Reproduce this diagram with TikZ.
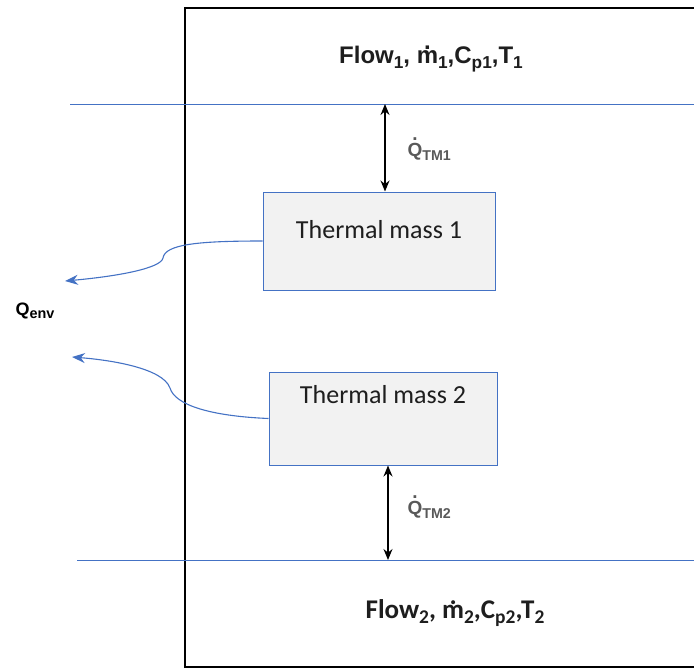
\documentclass[tikz,border=0pt]{standalone}
\usepackage{fontspec}
\setmainfont{Liberation Sans}
\newfontfamily\boxfont{Carlito}
\usetikzlibrary{arrows.meta}
\definecolor{tmblue}{HTML}{4472C4}
\definecolor{tmfill}{HTML}{F2F2F2}
\definecolor{tmgray}{HTML}{595959}
\definecolor{tmdark}{HTML}{1E1E1E}
\newcommand{\lowsub}[2][.72]{\raisebox{-.22em}{\scalebox{#1}{#2}}}
\newcommand{\dotted}[2][.8em]{{\ooalign{#2\cr\hidewidth\raisebox{#1}{.}\hidewidth\cr}}}
\tikzset{
  tmbox/.style={rectangle,fill=tmfill,draw=tmblue,line width=1pt,inner sep=0pt},
  tmtext/.style={font=\boxfont\fontsize{26}{30}\selectfont,text=tmdark,anchor=base},
  flowline/.style={draw=tmblue,line width=1pt},
  qarrow/.style={{Stealth[length=11pt,width=9pt]}-{Stealth[length=11pt,width=9pt]},line width=1.4pt},
  envarrow/.style={-{Stealth[length=13pt,width=10pt]},draw=tmblue,line width=1.1pt},
  flabel/.style={font=\bfseries\fontsize{24}{27}\selectfont,text=tmdark,anchor=base},
  qlabel/.style={font=\bfseries\fontsize{19}{22}\selectfont,text=tmgray,anchor=base west}
}
\begin{document}
\begin{tikzpicture}[x=1pt,y=-1pt]
  \useasboundingbox (0,0) rectangle (694,670);
  \begin{scope}
    \clip (0,0) rectangle (694,670);
    \draw[line width=1.2pt] (185,8) rectangle (710,667);
  \end{scope}

  \coordinate (flow1w) at (70,104);
  \coordinate (flow1e) at (694,104);
  \coordinate (flow2w) at (77,560);
  \coordinate (flow2e) at (694,560);
  \draw[flowline] (flow1w) -- (flow1e);
  \draw[flowline] (flow2w) -- (flow2e);

  \node[flabel] (flow1) at (431,63)
    {Flow\lowsub{1}, \dotted[.56em]{m}\lowsub{1},C\lowsub{p1},T\lowsub{1}};
  \node[flabel,font=\boxfont\bfseries\fontsize{27}{30}\selectfont] (flow2) at (455,618)
    {Flow\lowsub{2}, \dotted[.5em]{m}\lowsub{2},C\lowsub{p2},T\lowsub{2}};

  \node[tmbox,minimum width=232pt,minimum height=98pt] (tm1) at (379,241) {};
  \node[tmtext] (tm1txt) at (379,238) {Thermal mass 1};
  \node[tmbox,minimum width=228pt,minimum height=93pt] (tm2) at (383,418.5) {};
  \node[tmtext] (tm2txt) at (383,403) {Thermal mass 2};

  \coordinate (q1) at (385,104);
  \coordinate (q2) at (388,560);
  \draw[qarrow] (q1) -- (q1 |- tm1.north);
  \draw[qarrow] (q2 |- tm2.south) -- (q2);
  \node[qlabel] (qtm1) at (404,156) {\dotted{Q}\lowsub[.75]{TM1}};
  \node[qlabel] (qtm2) at (404,514) {\dotted{Q}\lowsub[.75]{TM2}};

  \node[qlabel,text=black,font=\bfseries\fontsize{18}{20}\selectfont] (qenv) at (12,315)
    {Q\lowsub[.8]{env}};
  \coordinate (env1) at (65,281);
  \coordinate (env2) at (72,357);
  \draw[envarrow] (tm1.west) .. controls (200,241) and (165,244) .. (163,258)
    .. controls (161,268) and (120,276) .. (env1);
  \draw[envarrow] (tm2.west) .. controls (210,416) and (175,405) .. (170,388)
    .. controls (163,368) and (110,360) .. (env2);
\end{tikzpicture}
\end{document}
